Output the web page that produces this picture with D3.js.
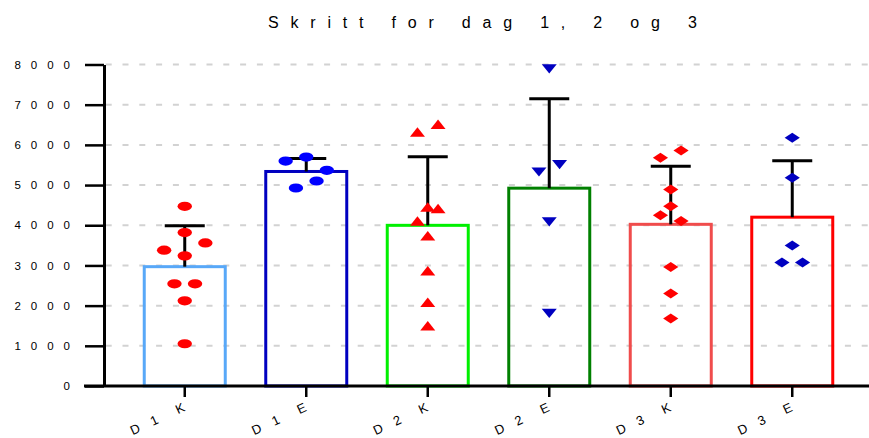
<!DOCTYPE html>
<html><head><meta charset="utf-8">
<script src="https://cdn.jsdelivr.net/npm/d3@7"></script>
<style>
body{margin:0;background:#fff}
svg{display:block}
text{font-family:"Liberation Sans",Arial,sans-serif;fill:#000}
</style>
</head><body>
<svg id="chart" width="869" height="438"></svg>
<script>
// ---------- data ----------
const title = "Skritt for dag 1, 2 og 3";
const categories = ["D1 K", "D1 E", "D2 K", "D2 E", "D3 K", "D3 E"];
const d1K = [1051, 2120, 2542, 2542, 3238, 3379, 3561, 3818, 4472];
const d1E = [4927, 5101, 5697, 5598, 5366];
const d2K = [1499, 2080, 2865, 3735, 4107, 4414, 4455, 6318, 6509];
const d2E = [1806, 4082, 5325, 5508, 7893];
const d3K = [1682, 2303, 2964, 4248, 4107, 4472, 4887, 5682, 5863];
const d3E = [3073, 3073, 3495, 5185, 6178];
const yTickValues = [0, 1000, 2000, 3000, 4000, 5000, 6000, 7000, 8000];
const groups = [d1K, d1E, d2K, d2E, d3K, d3E];

// ---------- styles ----------
const barColors   = ["#58a8f8", "#0000c0", "#00f000", "#008000", "#f04c4c", "#ff0000"];
const pointColors = ["#ff0000", "#0000ff", "#ff0000", "#0000c0", "#ff0000", "#0000c0"];
const shapes      = ["ellipse", "ellipse", "triUp", "triDown", "diamond", "diamond"];
const YLS = 10;         // letter spacing of y tick labels
const XLS = 12.5;       // letter spacing of x tick labels
const XANG = 25;        // x label rotation
const ROW_PX = 13.7;    // vertical threshold for spreading points
const SLOT_PX = 20.6;   // horizontal distance between spread points

const svg = d3.select("#chart");
const W = 869;

const x = d3.scaleBand().domain(categories).range([124, 853])
  .paddingInner(1/3).paddingOuter(1/6);
const y = d3.scaleLinear().domain([0, 8000]).range([386, 64.5]);
const axisX = 104;

// title
svg.append("text")
  .attr("x", 268).attr("y", 27.5)
  .attr("font-size", 16)
  .style("letter-spacing", "11.8px")
  .text(title);

// gridlines
svg.append("g").selectAll("line")
  .data(yTickValues.filter(v => v > 0))
  .join("line")
  .attr("x1", axisX + 1.7).attr("x2", W)
  .attr("y1", d => y(d)).attr("y2", d => y(d))
  .attr("stroke", "#d2d2d2").attr("stroke-width", 2)
  .attr("stroke-dasharray", "6,10.8");

// bars
const stats = groups.map(g => ({mean: d3.mean(g), sd: d3.deviation(g)}));
svg.append("g").selectAll("rect")
  .data(categories)
  .join("rect")
  .attr("x", d => x(d))
  .attr("width", x.bandwidth())
  .attr("y", (d, i) => y(stats[i].mean))
  .attr("height", (d, i) => y(0) - y(stats[i].mean))
  .attr("fill", "none")
  .attr("stroke", (d, i) => barColors[i])
  .attr("stroke-width", 3);

// error bars (mean + SD)
const eb = svg.append("g").attr("stroke", "#000").attr("stroke-width", 3);
categories.forEach((c, i) => {
  const cx = x(c) + x.bandwidth() / 2;
  const top = y(stats[i].mean + stats[i].sd);
  eb.append("line").attr("x1", cx).attr("x2", cx)
    .attr("y1", y(stats[i].mean)).attr("y2", top);
  eb.append("line").attr("x1", cx - 20).attr("x2", cx + 20)
    .attr("y1", top).attr("y2", top);
});

// axes
const yAxis = d3.axisLeft(y).tickValues(yTickValues).tickFormat(d3.format("d"))
  .tickSize(19).tickSizeOuter(0).tickPadding(4);
const gy = svg.append("g").attr("transform", `translate(${axisX},0)`).call(yAxis);
gy.select(".domain").attr("stroke-width", 3);
gy.selectAll(".tick line").attr("stroke-width", 2.5);
gy.selectAll(".tick text")
  .attr("font-size", 11.5).attr("font-family", "Liberation Sans, Arial, sans-serif")
  .attr("x", -34 + YLS)
  .style("letter-spacing", YLS + "px");

const xAxis = d3.axisBottom(x).tickSize(11).tickSizeOuter(0).tickPadding(0);
const gx = svg.append("g").attr("transform", `translate(0,${y(0)})`).call(xAxis);
gx.select(".domain").remove();
gx.selectAll(".tick line").attr("stroke-width", 2.5);
const ca = Math.cos(XANG * Math.PI / 180), sa = Math.sin(XANG * Math.PI / 180);
gx.selectAll(".tick text")
  .attr("font-size", 13).attr("font-family", "Liberation Sans, Arial, sans-serif")
  .attr("text-anchor", "end")
  .attr("dy", null).attr("y", null)
  .attr("transform", `translate(${1 + XLS * ca},${24.5 - XLS * sa}) rotate(${-XANG})`)
  .style("letter-spacing", XLS + "px")
  .style("word-spacing", "-8px");
svg.append("line")
  .attr("x1", 84).attr("x2", W)
  .attr("y1", y(0)).attr("y2", y(0))
  .attr("stroke", "#000").attr("stroke-width", 3);

// point layout: rows of nearby values spread symmetrically
function spread(vals) {
  const order = d3.range(vals.length).sort((a, b) => vals[a] - vals[b] || a - b);
  const rows = [];
  let cur = null;
  order.forEach(i => {
    const py = y(vals[i]);
    if (cur && Math.abs(cur.y0 - py) < ROW_PX) cur.m.push(i);
    else { cur = {y0: py, m: [i]}; rows.push(cur); }
  });
  const off = new Array(vals.length).fill(0);
  rows.forEach(r => {
    const m = r.m.slice().sort((a, b) => a - b);
    const n = m.length, slots = [];
    if (n % 2) { slots.push(0); for (let k = 1; slots.length < n; k++) slots.push(-k, k); }
    else { for (let k = 0.5; slots.length < n; k++) slots.push(-k, k); }
    m.forEach((idx, j) => off[idx] = slots[j] * SLOT_PX);
  });
  return off;
}

function markerPath(type) {
  const p = d3.path();
  if (type === "triUp") {
    p.moveTo(0, -4.8); p.lineTo(7.5, 4.7); p.lineTo(-7.5, 4.7); p.closePath();
  } else if (type === "triDown") {
    p.moveTo(0, 4.6); p.lineTo(7.5, -4.6); p.lineTo(-7.5, -4.6); p.closePath();
  } else {
    p.moveTo(0, -5); p.lineTo(7.6, 0); p.lineTo(0, 5); p.lineTo(-7.6, 0); p.closePath();
  }
  return p.toString();
}

const gp = svg.append("g");
groups.forEach((vals, i) => {
  const cx = x(categories[i]) + x.bandwidth() / 2;
  const off = spread(vals);
  const sel = gp.append("g").attr("fill", pointColors[i]);
  if (shapes[i] === "ellipse") {
    sel.selectAll("ellipse").data(vals).join("ellipse")
      .attr("cx", (d, j) => cx + off[j]).attr("cy", d => y(d))
      .attr("rx", 7.2).attr("ry", 4.6);
  } else {
    const dpath = markerPath(shapes[i]);
    sel.selectAll("path").data(vals).join("path")
      .attr("d", dpath)
      .attr("transform", (d, j) => `translate(${cx + off[j]},${y(d)})`);
  }
});
</script>
</body></html>
